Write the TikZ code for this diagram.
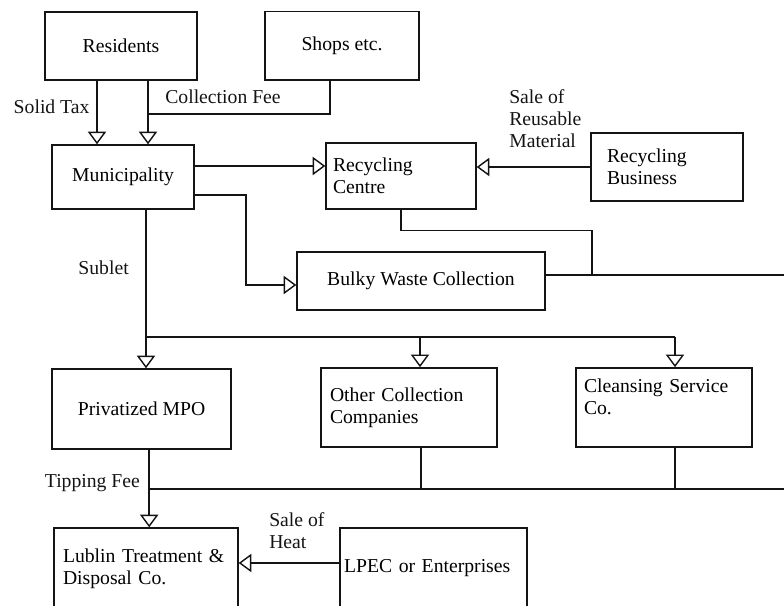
\documentclass[tikz,border=0pt]{standalone}
\usepackage{fontspec}
\setmainfont{Liberation Serif}
\usepackage{tikz}
\usetikzlibrary{arrows.meta, positioning}
\definecolor{mydark}{RGB}{20,20,20}
\tikzset{
  box/.style={rectangle, draw=mydark, line width=1pt, align=center,
    font=\fontsize{14}{15.5}\selectfont},
  lbox/.style={box, align=left},
  lbl/.style={inner sep=0pt, align=left, color=mydark,
    font=\fontsize{14}{15.5}\selectfont},
  arrow/.style={-{Triangle[open, length=9pt, width=13pt]}, line width=1pt, color=mydark},
  line/.style={line width=1pt, color=mydark}
}
\begin{document}
\begin{tikzpicture}
  \useasboundingbox (0,0) rectangle (19.6,15.125);
  \clip (0,0) rectangle (19.6,15.125);
  % Top row
  \node[box, minimum width=3.8cm, minimum height=1.7cm] (res) at (3.025,13.975) {Residents};
  \node[box, minimum width=3.85cm, minimum height=1.72cm] (shops) at (8.55,13.98) {Shops etc.};
  % Municipality and recycling
  \node[box, minimum width=3.55cm, minimum height=1.6cm] (muni) at (3.075,10.7) {Municipality};
  \node[lbox, text width=3.4cm, inner xsep=0.175cm, minimum height=1.65cm] (rcentre) at (10.025,10.725) {Recycling\\Centre};
  \node[lbox, text width=3.0cm, inner xsep=0.4cm, minimum height=1.7cm] (rbus) at (16.675,10.95) {Recycling\\Business};
  \node[box, minimum width=6.2cm, minimum height=1.45cm] (bulky) at (10.525,8.1) {Bulky Waste Collection};
  % Collectors
  \node[box, minimum width=4.475cm, minimum height=2cm] (priv) at (3.54,4.9) {Privatized MPO};
  \node[lbox, text width=3.95cm, inner xsep=0.225cm, minimum height=1.975cm] (other) at (10.225,4.94) {Other Collection\\Companies};
  \node[lbox, text width=4.0cm, inner xsep=0.2cm, minimum height=1.975cm] (clean) at (16.6,4.94) {Cleansing Service\\Co.\\\mbox{}};
  % Bottom row
  \node[lbox, text width=4.15cm, inner xsep=0.225cm, minimum height=2.025cm] (lublin) at (3.65,0.9125) {Lublin Treatment \&\\Disposal Co.};
  \node[lbox, text width=4.475cm, inner xsep=0.1cm, minimum height=2.025cm] (lpec) at (10.84,0.9125) {LPEC or Enterprises};
  % Labels
  \node[lbl] (soltax) at (1.29,12.45) {Solid Tax};
  \node[lbl] (colfee) at (5.575,12.7) {Collection Fee};
  \node[lbl, anchor=west] (salemat) at (12.725,12.16) {Sale of\\Reusable\\Material};
  \node[lbl] (sublet) at (2.59,8.425) {Sublet};
  \node[lbl] (tipfee) at (2.31,3.05) {Tipping Fee};
  \node[lbl, anchor=west] (saleheat) at (6.725,1.86) {Sale of\\Heat};
  % Junctions
  \coordinate (feejoin) at (3.7,12.275);
  \coordinate (mbend) at (6.15,8.0);
  \coordinate (rcjoin) at (14.8,8.25);
  \coordinate (redge) at (19.8,8.25);
  \coordinate (sj1) at (3.65,6.7);
  \coordinate (sj2) at (10.5,6.7);
  \coordinate (sj3) at (16.875,6.7);
  \coordinate (tj1) at (3.725,2.9);
  \coordinate (tj4) at (19.8,2.9);
  % Payments to municipality
  \draw[arrow] ([xshift=-0.6cm]res.south) -- ([xshift=-0.6cm]res.south |- muni.north);
  \draw[arrow] ([xshift=0.675cm]res.south) -- ([xshift=0.675cm]res.south |- muni.north);
  \draw[line] ([xshift=-0.3cm]shops.south) |- (feejoin);
  % Municipality to recycling and bulky waste
  \draw[arrow] ([yshift=0.275cm]muni.east) -- ([yshift=0.275cm]muni.east -| rcentre.west);
  \draw[arrow] ([yshift=-0.45cm]muni.east) -| (mbend) -- (mbend -| bulky.west);
  \draw[arrow] (rbus.west) -- (rbus.west -| rcentre.east);
  \draw[line] (rcentre.south) -- ++(0,-0.525) -| (rcjoin);
  \draw[line] ([yshift=0.15cm]bulky.east) -- (redge);
  % Sublet
  \draw[arrow] ([xshift=0.575cm]muni.south) -- ([xshift=0.575cm]muni.south |- priv.north);
  \draw[line] (sj1) -- (sj3);
  \draw[arrow] (sj2) -- (sj2 |- other.north);
  \draw[arrow] (sj3) -- (sj3 |- clean.north);
  % Tipping fee
  \draw[arrow] ([xshift=0.19cm]priv.south) -- ([xshift=0.19cm]priv.south |- lublin.north);
  \draw[line] (tj1) -- (tj4);
  \draw[line] ([xshift=0.3cm]other.south) -- ([xshift=0.3cm]other.south |- tj1);
  \draw[line] ([xshift=0.275cm]clean.south) -- ([xshift=0.275cm]clean.south |- tj1);
  \draw[arrow] ([yshift=0.1375cm]lpec.west) -- ([yshift=0.1375cm]lpec.west -| lublin.east);
\end{tikzpicture}
\end{document}
